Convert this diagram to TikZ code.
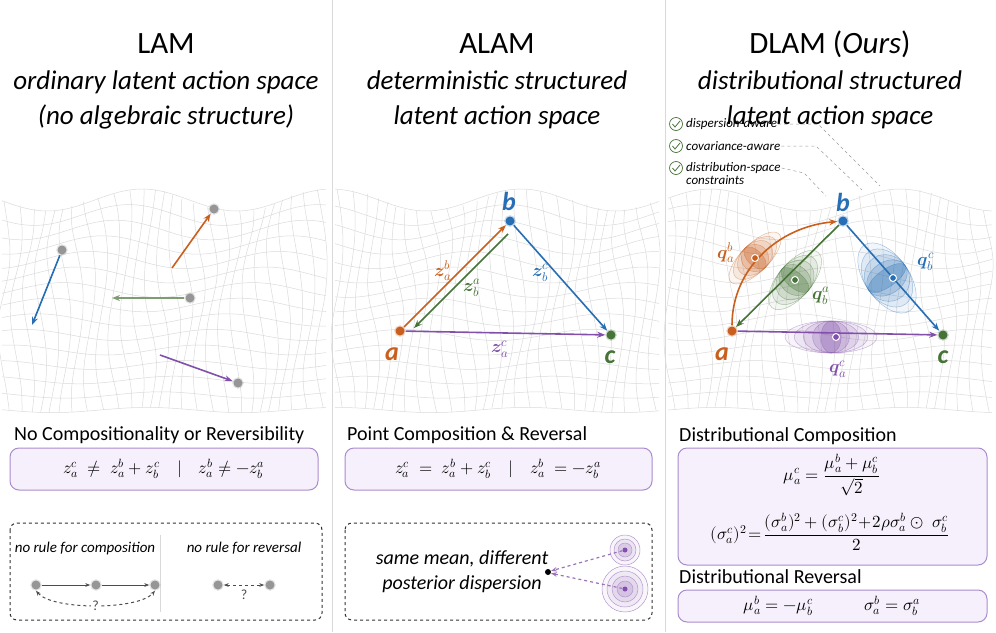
\documentclass[tikz,border=0pt]{standalone}
\usepackage{fontspec}
\usepackage{amsmath}
\usepackage{unicode-math}
\setmainfont{Carlito}
\setmathfont{Latin Modern Math}
\definecolor{ora}{RGB}{200,95,30}
\definecolor{blu}{RGB}{40,110,180}
\definecolor{grn}{RGB}{70,115,55}
\definecolor{pur}{RGB}{130,80,170}
\definecolor{boxfill}{RGB}{245,240,251}
\definecolor{boxline}{RGB}{170,140,205}
\definecolor{meshc}{RGB}{218,218,218}
\definecolor{dotgray}{RGB}{150,150,150}
\usetikzlibrary{
  arrows.meta,
  positioning     % positions like below of node
}
\tikzset{
  >={Stealth[length=8pt,width=6pt]},
  title/.style = {font=\fontsize{31}{34}\selectfont},
  subtitle/.style = {font=\fontsize{27}{35}\selectfont\itshape, align=center},
  heading/.style = {font=\fontsize{20}{22}\selectfont, anchor=west, inner sep=0pt},
  formula/.style = {font=\fontsize{17}{20}\selectfont},
  small/.style = {font=\fontsize{15}{17}\selectfont\itshape},
  checktext/.style = {font=\fontsize{13}{15}\selectfont\itshape, anchor=west, inner sep=1pt, align=left},
  pt/.style = {circle, inner sep=0pt, minimum size=9pt, fill=#1, draw=#1, draw opacity=0.25, line width=2.5pt},
  greypt/.style = {pt=dotgray},
  arr/.style = {->, line width=1.6pt, draw=#1},
  letter/.style = {font=\fontsize{26}{28}\selectfont\bfseries\itshape, text=#1},
  zlab/.style = {font=\fontsize{18}{20}\selectfont, text=#1},
  mathbox/.style = {draw=boxline, fill=boxfill, line width=1pt, rounded corners=9pt},
  dashbox/.style = {draw=black!80, dashed, line width=1pt, rounded corners=7pt},
  divider/.style = {draw=black!15, line width=1pt},
  leader/.style = {draw=black!40, dashed, line width=0.5pt}
}
\newcommand{\blob}[5]{% x, y, angle, colour, semi axes
  \foreach \s/\o in {1/0.06,0.8/0.09,0.6/0.13,0.4/0.2,0.22/0.3}
    \draw[#4, fill=#4, fill opacity=\o, draw opacity=0.4, line width=0.5pt, rotate around={#3:(#1,#2)}]
      (#1,#2) ellipse ({\s*#5});
}
\begin{document}
\begin{tikzpicture}[x=1pt, y=-1pt]
\useasboundingbox (0,0) rectangle (996,632);
% mesh landscape
\foreach \px in {0,333,666} {
  \foreach \k in {0,...,14}
    \draw[meshc, line width=0.5pt] plot[domain=\px+2:\px+326, samples=45, smooth]
      (\x, {200+\k*15+(11-0.6*\k)*sin(1.9*\x+\k*25)});
  \foreach \j in {0,...,26}
    \draw[meshc, line width=0.5pt] plot[domain=0:14, samples=12, smooth]
      ({\px+4+\j*12.2+6*sin(\x*30+\j*40)}, {200+\x*15+(11-0.6*\x)*sin(1.9*(\px+4+\j*12.2)+\x*25)});
}
\draw[divider] (332,0) -- (332,632);
\draw[divider] (665,0) -- (665,632);

% titles
\node[title] (t1) at (166,44) {LAM};
\node[subtitle] (s1) at (166,100) {ordinary latent action space\\(no algebraic structure)};
\node[title] (t2) at (497,44) {ALAM};
\node[subtitle] (s2) at (497,100) {deterministic structured\\latent action space};
\node[title] (t3) at (830,44) {DLAM (\textit{Ours})};
\node[subtitle] (s3) at (830,100) {distributional structured\\latent action space};

% LAM: unrelated vectors
\node[greypt] (p1) at (214,209) {};
\coordinate (p1s) at (172,268);
\draw[arr=ora] (p1s) -- (p1);
\node[greypt] (p2) at (62,250) {};
\coordinate (p2e) at (32,325);
\draw[arr=blu] (p2) -- (p2e);
\node[greypt] (p3) at (190,298) {};
\coordinate (p3e) at (112,298);
\draw[arr=grn!70!white] (p3) -- (p3e);
\node[greypt] (p4) at (238,383) {};
\coordinate (p4s) at (160,355);
\draw[arr=pur] (p4s) -- (p4);

% ALAM: triangle
\node[pt=ora] (a2) at (400,331) {};
\node[pt=blu] (b2) at (510,221) {};
\node[pt=grn] (c2) at (611,335) {};
\draw[arr=ora] (a2) -- (b2);
\coordinate (gs) at (508,234);
\coordinate (ge) at (414,328);
\draw[arr=grn] (gs) -- (ge);
\draw[arr=blu] (b2) -- (c2);
\draw[arr=pur] (a2) -- (c2);
\node[letter=ora] (la2) at (392,354) {a};
\node[letter=blu] (lb2) at (509,201) {b};
\node[letter=grn] (lc2) at (610,357) {c};
\node[zlab=ora] (zab) at (443,271) {$\mathbfit{z}_a^b$};
\node[zlab=grn] (zba) at (472,288) {$\mathbfit{z}_b^a$};
\node[zlab=blu] (zbc) at (541,273) {$\mathbfit{z}_b^c$};
\node[zlab=pur] (zac) at (500,349) {$\mathbfit{z}_a^c$};

% DLAM: distributions
\blob{755}{258}{45}{ora}{34pt and 14pt}
\blob{795}{280}{50}{grn}{36pt and 17pt}
\blob{887}{278}{-55}{blu}{40pt and 22pt}
\blob{831}{337}{0}{pur}{46pt and 16pt}
\node[pt=ora] (a3) at (732,331) {};
\node[pt=blu] (b3) at (843,221) {};
\node[pt=grn] (c3) at (943,335) {};
\draw[arr=ora] (a3) to[out=90, in=185] (b3);
\draw[arr=grn] (b3) -- (a3);
\draw[arr=blu] (b3) -- (c3);
\draw[arr=pur] (a3) -- (c3);
\foreach \m/\c in {{(755,258)}/ora,{(795,280)}/grn,{(893,278)}/blu,{(836,337)}/pur}
  \node[circle, fill=\c, draw=white, line width=1pt, inner sep=0pt, minimum size=7pt] at \m {};
\node[letter=ora] (la3) at (722,354) {a};
\node[letter=blu] (lb3) at (843,202) {b};
\node[letter=grn] (lc3) at (943,357) {c};
\node[zlab=ora] (qab) at (726,253) {$\mathbfit{q}_a^b$};
\node[zlab=grn] (qba) at (821,296) {$\mathbfit{q}_b^a$};
\node[zlab=blu] (qbc) at (926,262) {$\mathbfit{q}_b^c$};
\node[zlab=pur] (qac) at (838,369) {$\mathbfit{q}_a^c$};

% checklist
\foreach \n/\y/\t in {1/124/dispersion-aware,2/146/covariance-aware,3/168/distribution-space}{
  \draw[grn, line width=0.7pt] (676,\y) circle (6.5pt);
  \draw[grn, line width=0.8pt] (672.5,\y) -- (675,\y+3) -- (680,\y-3);
  \node[checktext] (c\n) at (685,\y) {\t};
}
\node[checktext, below=0pt of c3.south west, anchor=north west] (c3b) {constraints};
\coordinate (m1) at (880,186);
\coordinate (m2) at (862,190);
\coordinate (m3) at (826,196);
\draw[leader] (c1.east) -- (818,124) -- (m1);
\draw[leader] (c2.east) -- (816,146) -- (m2);
\draw[leader] (c3.east) -- (804,173) -- (m3);

% bottom LAM
\node[heading] (h1) at (14,435) {No Compositionality or Reversibility};
\draw[mathbox] (10,448) rectangle (318,490);
\node[formula] (f1) at (164,469) {$z_a^c \;\neq\; z_a^b + z_b^c \quad | \quad z_a^b \neq -z_b^a$};
\draw[dashbox] (10,523) rectangle (322,620);
\draw[divider] (160,535) -- (160,612);
\node[small] (r1) at (85,548) {no rule for composition};
\node[small] (r2) at (244,548) {no rule for reversal};
\node[pt=dotgray] (d1) at (36,585) {};
\node[pt=dotgray] (d2) at (96,585) {};
\node[pt=dotgray] (d3) at (155,585) {};
\draw[->, line width=1pt, black!70, >={Stealth[length=5pt]}] (d1) -- (d2);
\draw[->, line width=1pt, black!70, >={Stealth[length=5pt]}] (d2) -- (d3);
\draw[<->, dashed, line width=1pt, black!70, >={Stealth[length=5pt]}] (d1.south) to[out=-50, in=-130, looseness=0.55] node[pos=0.5, font=\fontsize{14}{15}\selectfont, fill=white, inner sep=1pt] {?} (d3.south);
\node[pt=dotgray] (e1) at (218,585) {};
\node[pt=dotgray] (e2) at (270,585) {};
\draw[<->, dashed, line width=1pt, black!70, >={Stealth[length=5pt]}] (e1) -- node[below=1pt, font=\fontsize{14}{15}\selectfont] {?} (e2);

% bottom ALAM
\node[heading] (h2) at (347,435) {Point Composition \& Reversal};
\draw[mathbox] (345,448) rectangle (652,490);
\node[formula] (f2) at (498,469) {$z_a^c \;=\; z_a^b + z_b^c \quad | \quad z_a^b \;= -z_b^a$};
\draw[dashbox] (345,523) rectangle (652,620);
\node[small, font=\fontsize{20}{25}\selectfont\itshape, align=center] (sm) at (462,572) {same mean, different\\posterior dispersion};
\node[circle, fill=black, inner sep=0pt, minimum size=6pt] (dot) at (548,572) {};
\foreach \r/\o in {15/0.06,11/0.1,7/0.16}
  \draw[pur!60, fill=pur, fill opacity=\o, line width=0.5pt] (625,550) circle (\r pt);
\foreach \r/\o in {23/0.05,18/0.08,13/0.11,8/0.16}
  \draw[pur!60, fill=pur, fill opacity=\o, line width=0.5pt] (625,589) circle (\r pt);
\node[circle, fill=pur, inner sep=0pt, minimum size=5pt] (g1) at (625,550) {};
\node[circle, fill=pur, inner sep=0pt, minimum size=5pt] (g2) at (625,589) {};
\draw[->, dashed, pur!80, line width=1.2pt, >={Stealth[length=6pt]}] ([xshift=-16pt]g1) -- (dot);
\draw[->, dashed, pur!80, line width=1.2pt, >={Stealth[length=6pt]}] ([xshift=-23pt,yshift=-6pt]g2) -- (dot);

% bottom DLAM
\node[heading] (h3) at (679,436) {Distributional Composition};
\draw[mathbox] (678,448) rectangle (987,565);
\node[formula] (f3) at (832,475) {$\mu_a^c = \dfrac{\mu_a^b+\mu_b^c}{\sqrt{2}}$};
\node[formula] (f4) at (830,532) {$(\sigma_a^c)^2 \!=\! \dfrac{(\sigma_a^b)^2+(\sigma_b^c)^2\!+\!2\rho\sigma_a^b\odot\;\sigma_b^c}{2}$};
\node[heading] (h4) at (679,577) {Distributional Reversal};
\draw[mathbox] (678,590) rectangle (987,622);
\node[formula] (f5) at (832,606) {$\mu_a^b = -\mu_b^c \qquad\quad \sigma_a^b = \sigma_b^a$};
\end{tikzpicture}
\end{document}
